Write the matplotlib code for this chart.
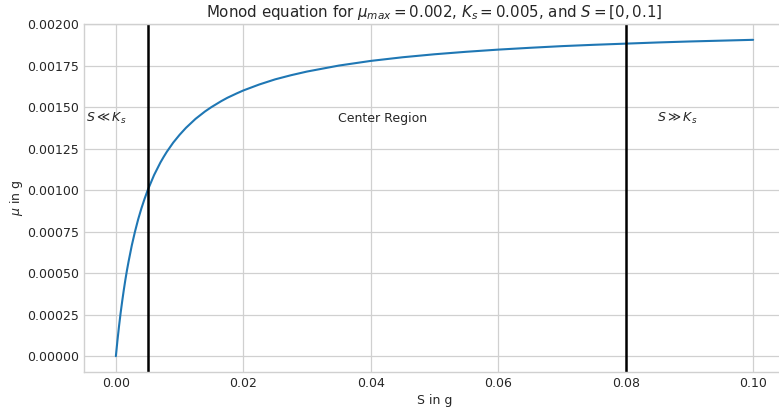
import numpy as np
import matplotlib.pyplot as plt

# values
S = [0.0, 0.00025, 0.0005, 0.00075, 0.001, 0.00125, 0.0015, 0.00175, 0.002,
     0.0025, 0.003, 0.0035, 0.004, 0.0045, 0.005, 0.006, 0.007, 0.0075, 0.008,
     0.009, 0.01, 0.011, 0.0125, 0.014, 0.015, 0.0165, 0.0175, 0.019, 0.02,
     0.0225, 0.025, 0.0275, 0.03, 0.035, 0.04, 0.045, 0.05, 0.055, 0.06,
     0.065, 0.07, 0.075, 0.08, 0.085, 0.09, 0.095, 0.1]
mu = [0.0, 0.0000952, 0.000182, 0.000261, 0.000333, 0.0004, 0.000462, 0.000519,
      0.000571, 0.000667, 0.00075, 0.000824, 0.000889, 0.000947, 0.001, 0.001091,
      0.001167, 0.0012, 0.001231, 0.001286, 0.001333, 0.001375, 0.001429,
      0.001474, 0.0015, 0.001535, 0.001556, 0.001583, 0.0016, 0.001636,
      0.001667, 0.001692, 0.001714, 0.00175, 0.001778, 0.0018, 0.001818,
      0.001833, 0.001846, 0.001857, 0.001867, 0.001875, 0.001882, 0.001889,
      0.001895, 0.0019, 0.001905]
vlines = [0.005, 0.08]

plt.style.use('seaborn-v0_8-whitegrid')
plt.rcParams['font.family'] = ['DejaVu Sans']
fig = plt.figure(figsize=(7.79, 4.12), dpi=100)
ax = fig.add_axes([84 / 779, 40 / 412, 701 / 779, 348 / 412])

ax.plot(S, mu, color='#1f77b4', lw=1.5)
for v in vlines:
    ax.axvline(v, color='black', lw=1.8)

ax.text(-0.0047, 0.00143, r'$S \ll K_s$', va='center', ha='left', fontsize=9, color='#262626')
ax.text(0.0418, 0.00143, 'Center Region', va='center', ha='center', fontsize=9, color='#262626')
ax.text(0.0849, 0.00143, r'$S \gg K_s$', va='center', ha='left', fontsize=9, color='#262626')

ax.set_title(r'Monod equation for $\mu_{max} = 0.002$, $K_s = 0.005$, and $S = [0, 0.1]$',
             fontsize=10.8, color='#262626', pad=5)
ax.set_xlabel('S in g', fontsize=9, labelpad=3)
ax.set_ylabel(r'$\mu$ in g', fontsize=9, labelpad=1.5)
ax.tick_params(labelsize=9, length=0, pad=3.6, colors='#262626')
ax.grid(color='#d0d0d0', lw=0.9)
for side in ['left', 'bottom', 'top']:
    ax.spines[side].set_color('#d0d0d0')
ax.spines['right'].set_visible(False)

fig.savefig('out.png', dpi=100)
